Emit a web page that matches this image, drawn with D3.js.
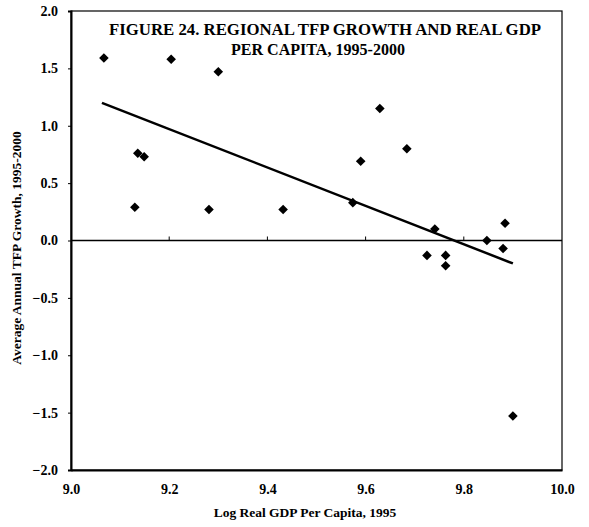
<!DOCTYPE html>
<html>
<head>
<meta charset="utf-8">
<script src="https://cdn.jsdelivr.net/npm/d3@7"></script>
<style>
  body { margin: 0; background: #fff; }
  text { font-family: "Liberation Serif", "DejaVu Serif", serif; fill: #000; }
  .tick text { font-size: 14px; font-weight: bold; }
</style>
</head>
<body>
<div id="chart"></div>
<script>
var width = 589, height = 527;

// log real GDP per capita, 1995 (x) and average annual TFP growth 1995-2000 (y)
var logGdp = [9.067, 9.204, 9.300, 9.136, 9.149, 9.130, 9.281, 9.432,
  9.629, 9.590, 9.684, 9.574, 9.741, 9.725, 9.763, 9.763, 9.847, 9.880, 9.884, 9.900];
var tfpGrowth = [1.59, 1.58, 1.47, 0.76, 0.73, 0.29, 0.27, 0.27,
  1.15, 0.69, 0.80, 0.33, 0.10, -0.13, -0.13, -0.22, 0.00, -0.07, 0.15, -1.53];
// fitted trend line end points
var trendX = [9.063, 9.900];
var trendY = [1.20, -0.20];
var xTicks = [9.0, 9.2, 9.4, 9.6, 9.8, 10.0];
var yTicks = [2.0, 1.5, 1.0, 0.5, 0.0, -0.5, -1.0, -1.5, -2.0];

var plotL = 71, plotR = 562, plotT = 11, plotB = 470;

var svg = d3.select("#chart").append("svg")
  .attr("width", width)
  .attr("height", height);

var x = d3.scaleLinear().domain([9.0, 10.0]).range([plotL, plotR]);
var y = d3.scaleLinear().domain([-2.0, 2.0]).range([plotB, plotT]);

// frame
svg.append("rect")
  .attr("x", plotL).attr("y", plotT)
  .attr("width", plotR - plotL).attr("height", plotB - plotT)
  .attr("fill", "none").attr("stroke", "#000").attr("stroke-width", 1.2);

// left and bottom axes
var yAxis = svg.append("g")
  .attr("transform", "translate(" + plotL + ",0)")
  .call(d3.axisLeft(y).tickValues(yTicks).tickFormat(d3.format(".1f")).tickSize(3).tickPadding(10));
yAxis.select(".domain").attr("stroke-width", 2);

var xAxis = svg.append("g")
  .attr("transform", "translate(0," + plotB + ")")
  .call(d3.axisBottom(x).tickValues(xTicks).tickFormat(d3.format(".1f")).tickSize(0).tickPadding(14));
xAxis.select(".domain").attr("stroke-width", 2);

// zero line with small ticks
svg.append("line")
  .attr("x1", plotL).attr("x2", plotR)
  .attr("y1", y(0)).attr("y2", y(0))
  .attr("stroke", "#000").attr("stroke-width", 1.5);

svg.selectAll(".zt")
  .data(xTicks.slice(1, -1))
  .enter().append("line")
    .attr("class", "zt")
    .attr("x1", function(d) { return x(d); })
    .attr("x2", function(d) { return x(d); })
    .attr("y1", y(0)).attr("y2", y(0) - 4)
    .attr("stroke", "#000");

// trend line
svg.append("line")
  .attr("x1", x(trendX[0])).attr("y1", y(trendY[0]))
  .attr("x2", x(trendX[1])).attr("y2", y(trendY[1]))
  .attr("stroke", "#000").attr("stroke-width", 2.5);

// points
var diamond = d3.symbol().type(d3.symbolSquare).size(46);
svg.selectAll(".pt")
  .data(logGdp)
  .enter().append("path")
    .attr("class", "pt")
    .attr("d", diamond)
    .attr("transform", function(d, i) {
      return "translate(" + x(d) + "," + y(tfpGrowth[i]) + ") rotate(45)";
    })
    .attr("fill", "#000");

// title
svg.append("text")
  .attr("x", 325).attr("y", 35)
  .attr("text-anchor", "middle")
  .attr("font-size", 16).attr("font-weight", "bold")
  .attr("textLength", 432).attr("lengthAdjust", "spacingAndGlyphs")
  .text("FIGURE 24. REGIONAL TFP GROWTH AND REAL GDP");
svg.append("text")
  .attr("x", 318).attr("y", 55)
  .attr("text-anchor", "middle")
  .attr("font-size", 16).attr("font-weight", "bold")
  .attr("textLength", 174).attr("lengthAdjust", "spacingAndGlyphs")
  .text("PER CAPITA, 1995-2000");

// axis labels
svg.append("text")
  .attr("x", 305).attr("y", 517)
  .attr("text-anchor", "middle")
  .attr("font-size", 13.5).attr("font-weight", "bold")
  .text("Log Real GDP Per Capita, 1995");

svg.append("text")
  .attr("transform", "translate(21,248) rotate(-90)")
  .attr("text-anchor", "middle")
  .attr("font-size", 13.5).attr("font-weight", "bold")
  .text("Average Annual TFP Growth, 1995-2000");
</script>
</body>
</html>
